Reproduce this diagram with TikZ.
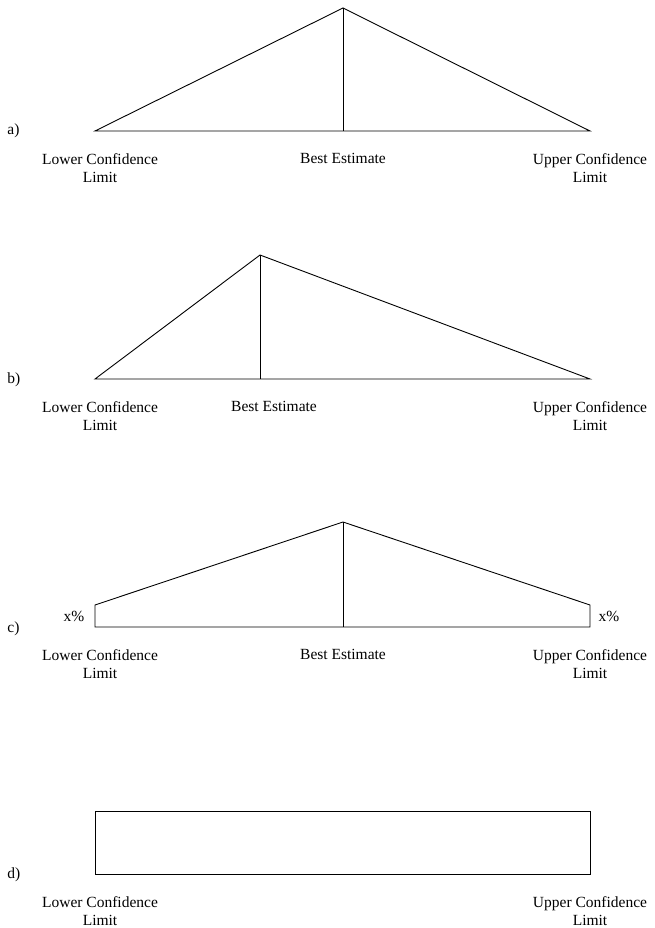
\documentclass[tikz,border=0pt]{standalone}
\usepackage{fontspec}
\setmainfont{Liberation Serif}
\usepackage{tikz}
\tikzset{
  lim/.style={align=center,anchor=north,inner sep=0pt,font=\fontsize{15.5}{18}\selectfont},
  tag/.style={anchor=base west,inner sep=0pt,font=\fontsize{15.5}{18}\selectfont},
  pct/.style={inner sep=0pt,font=\fontsize{15.5}{18}\selectfont}
}

\begin{document}
\begin{tikzpicture}[x=1pt,y=-1pt,line width=0.9pt]
    \useasboundingbox (0,0) rectangle (655,928);
    % a) symmetric
    \coordinate (aL) at (95,131);
    \coordinate (aR) at (590,131);
    \coordinate (aM) at (343,131);
    \coordinate (aT) at (343,8);
    \draw (aL) -- (aT) -- (aR) -- cycle;
    \draw (aT) -- (aM);
    \node[tag] (atag) at (7,135) {a)};
    \node[lim] (alow) at (100,153) {Lower Confidence\\Limit};
    \node[lim] (abest) at (343,153) {Best Estimate};
    \node[lim] (aup) at (590,153) {Upper Confidence\\Limit};
    % b) skewed
    \coordinate (bL) at (95,379);
    \coordinate (bR) at (590,379);
    \coordinate (bM) at (260,379);
    \coordinate (bT) at (260,255);
    \draw (bL) -- (bT) -- (bR) -- cycle;
    \draw (bT) -- (bM);
    \node[tag] (btag) at (7,383) {b)};
    \node[lim] (blow) at (100,401) {Lower Confidence\\Limit};
    \node[lim] (bbest) at (274,401) {Best Estimate};
    \node[lim] (bup) at (590,401) {Upper Confidence\\Limit};
    % c) with tails
    \coordinate (cL) at (95,627);
    \coordinate (cLt) at (95,605);
    \coordinate (cR) at (590,627);
    \coordinate (cRt) at (590,605);
    \coordinate (cM) at (343,627);
    \coordinate (cT) at (343,522);
    \draw (cL) -- (cLt) -- (cT) -- (cRt) -- (cR) -- cycle;
    \draw (cT) -- (cM);
    \node[pct] (cpl) at (74,616) {x\%};
    \node[pct] (cpr) at (609,616) {x\%};
    \node[tag] (ctag) at (7,632) {c)};
    \node[lim] (clow) at (100,649) {Lower Confidence\\Limit};
    \node[lim] (cbest) at (343,649) {Best Estimate};
    \node[lim] (cup) at (590,649) {Upper Confidence\\Limit};
    % d) uniform
    \coordinate (dL) at (95,874);
    \coordinate (dRt) at (590,811);
    \draw (dL) rectangle (dRt);
    \node[tag] (dtag) at (7,878) {d)};
    \node[lim] (dlow) at (100,896) {Lower Confidence\\Limit};
    \node[lim] (dup) at (590,896) {Upper Confidence\\Limit};
\end{tikzpicture}
\end{document}
